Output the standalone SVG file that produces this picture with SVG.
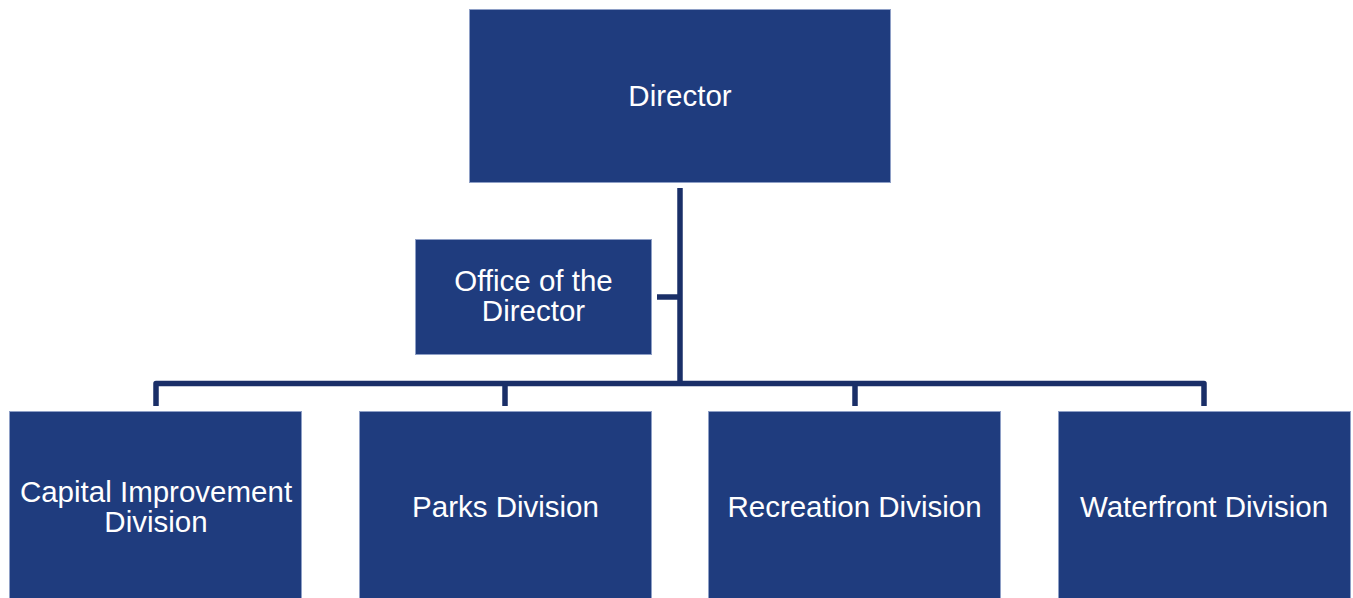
<svg xmlns="http://www.w3.org/2000/svg" width="1353" height="598" viewBox="0 0 1353 598">
<style>
.box{fill:#1F3C7E;stroke:#8E9FC6;stroke-width:1}
.lbl{fill:#FFFFFF;font-family:"Liberation Sans",Arial,sans-serif;font-size:29.5px;text-anchor:middle}
.conn{stroke:#1A2F68;stroke-width:5.5;fill:none;stroke-linejoin:round}
</style>
<rect width="1353" height="598" fill="#FFFFFF"/>
<g id="connectors">
<path class="conn" d="M680,188 V383"/>
<path class="conn" d="M657,297 H680"/>
<path class="conn" d="M156,406 V383.5 H1204 V406"/>
<path class="conn" d="M505,383.5 V406"/>
<path class="conn" d="M855,383.5 V406"/>
</g>
<g id="director">
<rect class="box" x="469.5" y="9.5" width="421" height="173"/>
<text class="lbl" x="680" y="106">Director</text>
</g>
<g id="office">
<rect class="box" x="415.5" y="239.5" width="236" height="115"/>
<text class="lbl" x="533.5" y="291">Office of the</text>
<text class="lbl" x="533.5" y="321">Director</text>
</g>
<g id="capital">
<rect class="box" x="9.5" y="411.5" width="292" height="200"/>
<text class="lbl" x="156" y="502">Capital Improvement</text>
<text class="lbl" x="156" y="532">Division</text>
</g>
<g id="parks">
<rect class="box" x="359.5" y="411.5" width="292" height="200"/>
<text class="lbl" x="505.5" y="517">Parks Division</text>
</g>
<g id="recreation">
<rect class="box" x="708.5" y="411.5" width="292" height="200"/>
<text class="lbl" x="854.5" y="517">Recreation Division</text>
</g>
<g id="waterfront">
<rect class="box" x="1058.5" y="411.5" width="292" height="200"/>
<text class="lbl" x="1204" y="517">Waterfront Division</text>
</g>
</svg>
